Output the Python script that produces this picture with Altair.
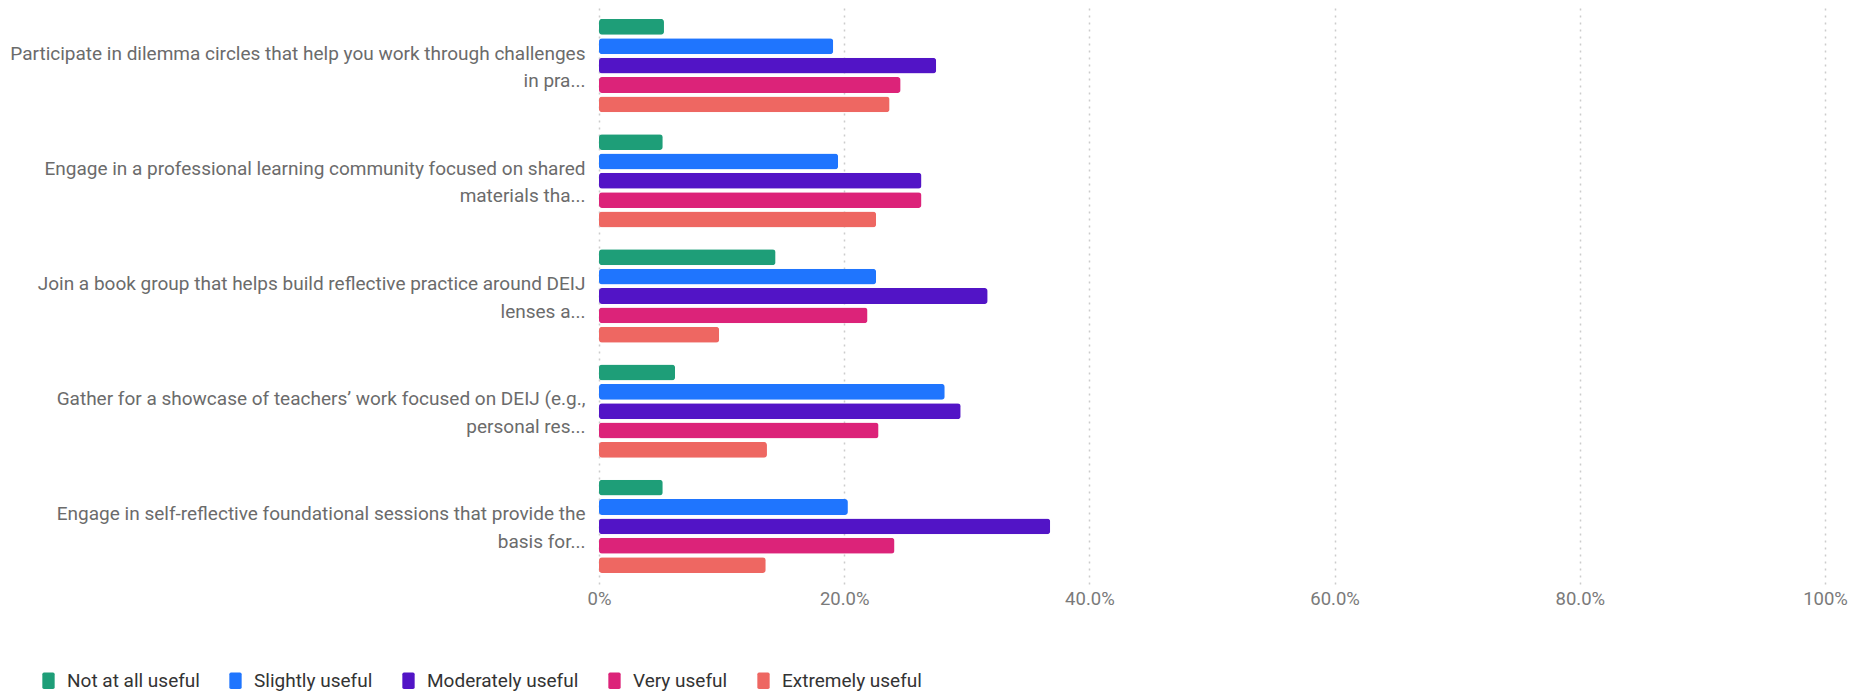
import altair as alt
import pandas as pd

categories = [
    "Participate in dilemma circles that help you work through challenges|in pra...",
    "Engage in a professional learning community focused on shared|materials tha...",
    "Join a book group that helps build reflective practice around DEIJ|lenses a...",
    "Gather for a showcase of teachers\u2019 work focused on DEIJ (e.g.,|personal res...",
    "Engage in self-reflective foundational sessions that provide the|basis for...",
]
series = ["Not at all useful", "Slightly useful", "Moderately useful", "Very useful", "Extremely useful"]
colors = ["#1E9E78", "#1F75FE", "#5214C6", "#DC2379", "#EE6762"]

not_at_all = [0.053, 0.052, 0.144, 0.062, 0.052]
slightly = [0.191, 0.195, 0.226, 0.282, 0.203]
moderately = [0.275, 0.263, 0.317, 0.295, 0.368]
very = [0.246, 0.263, 0.219, 0.228, 0.241]
extremely = [0.237, 0.226, 0.098, 0.137, 0.136]

values = [not_at_all, slightly, moderately, very, extremely]
rows = []
for s, vals in zip(series, values):
    for c, v in zip(categories, vals):
        rows.append({"category": c, "series": s, "value": v})
df = pd.DataFrame(rows)

FONT = "Roboto"
rounded = "M -0.55 -1 L 0.55 -1 Q 0.75 -1 0.75 -0.8 L 0.75 0.8 Q 0.75 1 0.55 1 L -0.55 1 Q -0.75 1 -0.75 0.8 L -0.75 -0.8 Q -0.75 -1 -0.55 -1 Z"

chart = alt.Chart(df).mark_bar(cornerRadius=3).encode(
    x=alt.X(
        "value:Q",
        scale=alt.Scale(domain=[0, 1], nice=False),
        axis=alt.Axis(
            values=[0, 0.2, 0.4, 0.6, 0.8, 1.0],
            labelExpr="datum.value == 0 ? '0%' : (datum.value == 1 ? '100%' : format(datum.value, '.1%'))",
            grid=True,
            gridDash=[2, 5],
            gridColor="#cccccc",
            gridWidth=1.5,
            domain=False,
            ticks=False,
            labelFont=FONT,
            labelFontSize=18.5,
            labelColor="#7a7a7a",
            labelPadding=5,
            labelFlush=False,
            title=None,
        ),
    ),
    y=alt.Y(
        "category:N",
        sort=categories,
        scale=alt.Scale(paddingInner=0.19, paddingOuter=0.095),
        axis=alt.Axis(
            labelExpr="split(datum.label, '|')",
            labelFont=FONT,
            labelFontSize=19,
            labelColor="#6b6b6b",
            labelLimit=700,
            labelLineHeight=27.5,
            labelPadding=14,
            labelOffset=-12,
            domain=False,
            ticks=False,
            title=None,
        ),
    ),
    yOffset=alt.YOffset("series:N", sort=series, scale=alt.Scale(paddingInner=0.18, paddingOuter=0)),
    color=alt.Color(
        "series:N",
        sort=series,
        scale=alt.Scale(domain=series, range=colors),
        legend=alt.Legend(
            orient="none",
            legendX=-560,
            legendY=663,
            direction="horizontal",
            title=None,
            symbolType=rounded,
            symbolSize=270,
            symbolStrokeWidth=0,
            symbolOpacity=1,
            labelFont=FONT,
            labelFontSize=19,
            labelColor="#333333",
            labelLimit=400,
            labelOffset=9,
            columnPadding=26,
        ),
    ),
).properties(
    width=1226,
    height=576,
    autosize=alt.AutoSizeParams(type="none"),
    padding={"left": 599, "top": 8, "right": 43, "bottom": 110},
).configure(background="white").configure_view(strokeWidth=0, stroke=None)

chart.save("out.html", embed_options={"renderer": "svg", "actions": False})
